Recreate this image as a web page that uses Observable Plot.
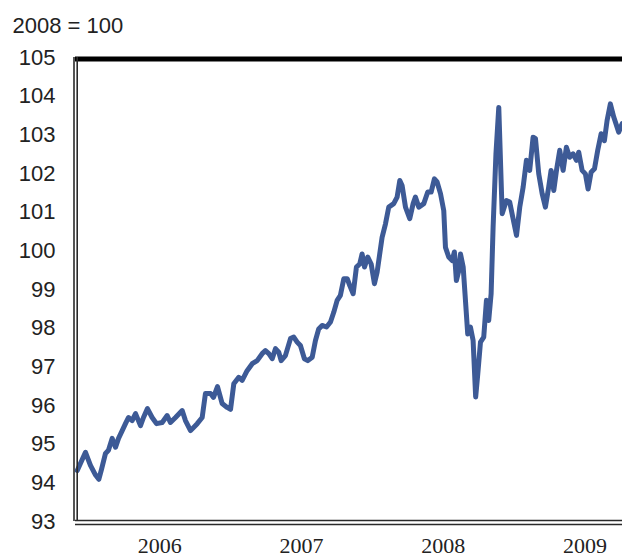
<!DOCTYPE html>
<html>
<head>
<meta charset="utf-8">
<script src="https://cdn.jsdelivr.net/npm/d3@7"></script>
<script src="https://cdn.jsdelivr.net/npm/@observablehq/plot@0.6"></script>
<style>
  html, body { margin: 0; padding: 0; background: #fff; }
  #chart { width: 622px; height: 558px; overflow: hidden; }
</style>
</head>
<body>
<div id="chart"></div>
<script>
// Decimal-year time stamps of the traced series
const times = [
  2005.918, 2005.976, 2006.011, 2006.047, 2006.070, 2006.089, 2006.117, 2006.138, 2006.164, 2006.188,
  2006.209, 2006.235, 2006.258, 2006.279, 2006.305, 2006.329, 2006.364, 2006.385, 2006.413, 2006.446,
  2006.477, 2006.517, 2006.552, 2006.575, 2006.611, 2006.658, 2006.681, 2006.717, 2006.764, 2006.799,
  2006.822, 2006.858, 2006.879, 2006.907, 2006.940, 2006.975, 2006.999, 2007.022, 2007.057, 2007.081,
  2007.116, 2007.152, 2007.187, 2007.222, 2007.245, 2007.269, 2007.293, 2007.316, 2007.339, 2007.356,
  2007.386, 2007.422, 2007.445, 2007.469, 2007.492, 2007.520, 2007.544, 2007.575, 2007.598, 2007.621,
  2007.645, 2007.676, 2007.704, 2007.727, 2007.751, 2007.774, 2007.798, 2007.822, 2007.840, 2007.864,
  2007.887, 2007.910, 2007.927, 2007.944, 2007.967, 2007.991, 2008.014, 2008.033, 2008.068, 2008.092,
  2008.115, 2008.150, 2008.174, 2008.193, 2008.209, 2008.233, 2008.263, 2008.287, 2008.303, 2008.327,
  2008.362, 2008.390, 2008.414, 2008.437, 2008.456, 2008.480, 2008.503, 2008.515, 2008.538, 2008.562,
  2008.578, 2008.592, 2008.609, 2008.621, 2008.640, 2008.656, 2008.672, 2008.691, 2008.710, 2008.728,
  2008.743, 2008.762, 2008.785, 2008.804, 2008.820, 2008.837, 2008.851, 2008.871, 2008.891, 2008.915,
  2008.945, 2008.968, 2008.992, 2009.016, 2009.039, 2009.063, 2009.086, 2009.109, 2009.133, 2009.150,
  2009.173, 2009.197, 2009.220, 2009.243, 2009.260, 2009.279, 2009.298, 2009.321, 2009.345, 2009.368,
  2009.391, 2009.415, 2009.439, 2009.455, 2009.479, 2009.502, 2009.521, 2009.542, 2009.566, 2009.589,
  2009.613, 2009.636, 2009.655, 2009.678, 2009.702, 2009.737, 2009.761
];

// Index values (2008 = 100)
const values = [
  94.32, 94.79, 94.45, 94.20, 94.09, 94.35, 94.76, 94.84, 95.15, 94.92,
  95.15, 95.35, 95.53, 95.69, 95.61, 95.79, 95.48, 95.69, 95.92, 95.69,
  95.53, 95.56, 95.74, 95.56, 95.69, 95.87, 95.61, 95.35, 95.53, 95.69,
  96.31, 96.31, 96.21, 96.49, 96.05, 95.95, 95.90, 96.56, 96.73, 96.65,
  96.90, 97.08, 97.16, 97.34, 97.42, 97.34, 97.21, 97.47, 97.38, 97.16,
  97.29, 97.73, 97.77, 97.64, 97.55, 97.21, 97.16, 97.25, 97.68, 97.98,
  98.07, 98.03, 98.16, 98.41, 98.72, 98.85, 99.28, 99.28, 99.10, 98.89,
  99.58, 99.66, 99.92, 99.58, 99.84, 99.66, 99.15, 99.45, 100.35, 100.70,
  101.13, 101.22, 101.39, 101.82, 101.69, 101.13, 100.83, 101.22, 101.39, 101.13,
  101.22, 101.52, 101.52, 101.86, 101.78, 101.48, 101.04, 100.09, 99.84, 99.75,
  99.97, 99.23, 99.49, 99.92, 99.58, 98.72, 97.85, 98.03, 97.68, 96.22,
  96.82, 97.64, 97.77, 98.72, 98.20, 98.89, 100.61, 102.50, 103.71, 100.96,
  101.30, 101.26, 100.83, 100.40, 101.13, 101.65, 102.34, 102.08, 102.94, 102.90,
  101.99, 101.48, 101.13, 101.65, 102.08, 101.56, 102.08, 102.60, 102.08, 102.68,
  102.42, 102.51, 102.34, 102.55, 102.08, 101.99, 101.60, 102.03, 102.12, 102.60,
  103.03, 102.85, 103.37, 103.80, 103.46, 103.07, 103.29
];

const yTicks = [93, 94, 95, 96, 97, 98, 99, 100, 101, 102, 103, 104, 105];
const xTickLabels = ["2006", "2007", "2008", "2009"];
const xTickPositions = [2006.5, 2007.5, 2008.5, 2009.5];
const titleText = ["2008 = 100"];
const xDomain = [2005.9055, 2009.7637];
const yDomain = [93, 105];

const data = times.map((t, i) => ({t, v: values[i]}));
const labelOf = new Map(xTickPositions.map((p, i) => [p, xTickLabels[i]]));

const ink = "#222";
const axisInk = "#2a2a2a";

const chart = Plot.plot({
  width: 622,
  height: 558,
  marginLeft: 75,
  marginRight: 0,
  marginTop: 57,
  marginBottom: 37,
  style: {background: "#fff", fontFamily: "'Liberation Sans', Arial, sans-serif", overflow: "visible"},
  x: {type: "linear", domain: xDomain},
  y: {domain: yDomain},
  marks: [
    Plot.axisY(yTicks, {
      tickSize: 0, tickPadding: 20, fontSize: 22, fill: ink,
      fontFamily: "'Liberation Sans', Arial, sans-serif",
      tickFormat: d => String(d), label: null
    }),
    Plot.axisX(xTickPositions, {
      tickSize: 0, tickPadding: 16, fontSize: 22, fill: ink,
      fontFamily: "'Liberation Serif', 'Times New Roman', serif",
      tickFormat: d => labelOf.get(d), label: null
    }),
    Plot.line(data, {
      x: "t", y: "v", stroke: "#3d5a96", strokeWidth: 5,
      strokeLinejoin: "round", strokeLinecap: "round"
    }),
    // frame: thick top, double left and bottom
    Plot.ruleY([yDomain[1]], {stroke: "#000", strokeWidth: 5, dy: 1.5}),
    Plot.ruleX([xDomain[0]], {stroke: axisInk, strokeWidth: 1.6, dx: -1.5}),
    Plot.ruleX([xDomain[0]], {stroke: axisInk, strokeWidth: 1.6, dx: 1.7}),
    Plot.ruleY([yDomain[0]], {stroke: axisInk, strokeWidth: 1.6, dy: -1}),
    Plot.ruleY([yDomain[0]], {stroke: axisInk, strokeWidth: 1.6, dy: 3}),
    Plot.text(titleText, {
      text: d => d, frameAnchor: "top-left", dx: -63, dy: -25,
      textAnchor: "start", lineAnchor: "bottom", fontSize: 22, fill: ink,
      fontFamily: "'Liberation Sans', Arial, sans-serif"
    })
  ]
});

document.getElementById("chart").appendChild(chart);
</script>
</body>
</html>
